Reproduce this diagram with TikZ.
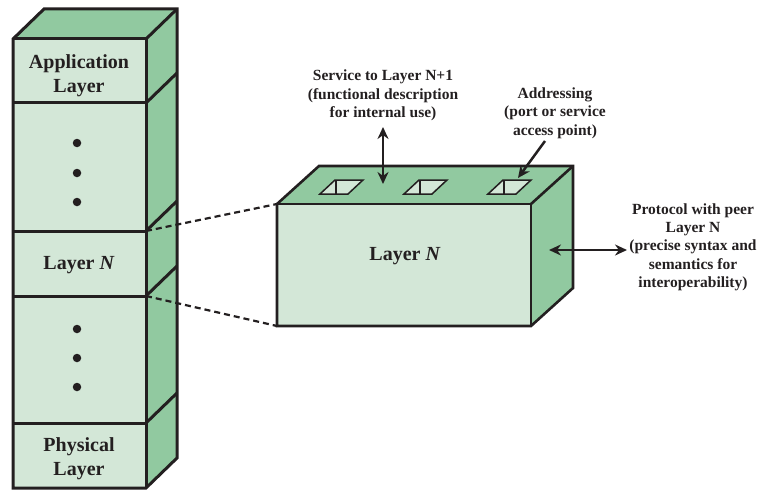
\documentclass[tikz,border=0pt]{standalone}
\usepackage{fontspec}
\setmainfont{Liberation Serif}
\usetikzlibrary{arrows.meta}
\definecolor{facelight}{HTML}{D3E7D7}
\definecolor{facedark}{HTML}{91C9A0}
\definecolor{ink}{HTML}{231F20}
\begin{document}
\begin{tikzpicture}[x=1pt,y=-1pt,
  edge/.style={draw=ink,line width=3pt,line join=miter},
  medge/.style={draw=ink,line width=2.6pt,line join=miter},
  biglabel/.style={text=ink,font=\fontsize{20}{24}\selectfont\bfseries,align=center,inner sep=0pt},
  smalllabel/.style={text=ink,font=\fontsize{15.5}{18.3}\selectfont\bfseries,align=center,inner sep=0pt},
  dotmark/.style={circle,fill=ink,minimum size=8.5pt,inner sep=0pt},
  slot/.style={draw=ink,line width=1.5pt,fill=facelight},
  arr/.style={draw=ink,line width=2.5pt,-{Stealth[length=12pt,width=11pt]}},
  biarr/.style={draw=ink,line width=2.5pt,{Stealth[length=12pt,width=11pt]}-{Stealth[length=12pt,width=11pt]}},
  dashline/.style={draw=ink,line width=2.2pt,dash pattern=on 6pt off 4pt}]
\useasboundingbox (0,0) rectangle (770,500);

% ---------- left stack ----------
\coordinate (sTL) at (13,39);
\coordinate (sTR) at (146,39);
\coordinate (sBL) at (13,488);
\coordinate (sBR) at (146,488);
\coordinate (sBkTL) at (44,9);
\coordinate (sBkTR) at (177,9);
\coordinate (sBkBR) at (177,458);
\fill[facelight] (sTL) rectangle (sBR);
\fill[facedark] (sTL) -- (sBkTL) -- (sBkTR) -- (sTR) -- cycle;
\fill[facedark] (sTR) -- (sBkTR) -- (sBkBR) -- (sBR) -- cycle;
\foreach \y [count=\i] in {103,231,296,423}{
  \coordinate (dL\i) at (13,\y);
  \coordinate (dR\i) at (146,\y);
  \coordinate (dK\i) at (177,\y-30);
  \draw[edge] (dL\i) -- (dR\i);
  \draw[edge] (dR\i) -- (dK\i);
}
\draw[edge] (sTL) -- (sBkTL) -- (sBkTR) -- (sBkBR) -- (sBR) -- (sBL) -- cycle;
\draw[edge] (sTL) -- (sTR) -- (sBR);
\draw[edge] (sTR) -- (sBkTR);

\node[biglabel] (app) at (79,75.5) {Application\\Layer};
\node[biglabel] (layl) at (79,265) {Layer \textit{N}};
\node[biglabel] (phys) at (79,458.5) {Physical\\Layer};
\foreach \y [count=\i] in {143,173,202}{\node[dotmark] (du\i) at (77,\y) {};}
\foreach \y [count=\i] in {329,358,387}{\node[dotmark] (dd\i) at (77,\y) {};}

% ---------- middle box ----------
\coordinate (mTL) at (277,204);
\coordinate (mTR) at (531,204);
\coordinate (mBL) at (277,326);
\coordinate (mBR) at (531,326);
\coordinate (mBkTL) at (319,166);
\coordinate (mBkTR) at (573,166);
\coordinate (mBkBR) at (573,288);
\fill[facelight] (mTL) rectangle (mBR);
\fill[facedark] (mTL) -- (mBkTL) -- (mBkTR) -- (mTR) -- cycle;
\fill[facedark] (mTR) -- (mBkTR) -- (mBkBR) -- (mBR) -- cycle;
\draw[medge] (mTL) -- (mBkTL) -- (mBkTR) -- (mBkBR) -- (mBR) -- (mBL) -- cycle;
\draw[medge] (mTL) -- (mTR) -- (mBR);
\draw[medge] (mTR) -- (mBkTR);
\node[biglabel] (laym) at (405,256) {Layer \textit{N}};

% slots
\foreach \x [count=\i] in {320,404,488}{
  \draw[slot] (\x,194) -- (\x+15,180) -- (\x+43,180) -- (\x+28,194) -- cycle;
  \draw[draw=ink,line width=1.3pt] (\x+16,180) -- (\x+16,194);
  \coordinate (slot\i) at (\x+30,178);
}

% dashed connectors
\draw[dashline] (dR2) -- (mTL);
\draw[dashline] (dR3) -- (mBL);

% labels
\node[smalllabel] (svc) at (383,95.5) {Service to Layer N+1\\(functional description\\for internal use)};
\node[smalllabel] (addr) at (555,113) {Addressing\\(port or service\\access point)};
\node[smalllabel] (proto) at (693,247) {Protocol with peer\\Layer N\\(precise syntax and\\semantics for\\interoperability)};

\coordinate (svcTop) at (383,127);
\coordinate (svcBot) at (383,184);
\draw[biarr] (svcTop) -- (svcBot);
\coordinate (addrStart) at (545,141);
\draw[arr] (addrStart) -- (slot3);
\coordinate (protoL) at (549,250);
\coordinate (protoR) at (627,250);
\draw[biarr] (protoL) -- (protoR);
\end{tikzpicture}
\end{document}
